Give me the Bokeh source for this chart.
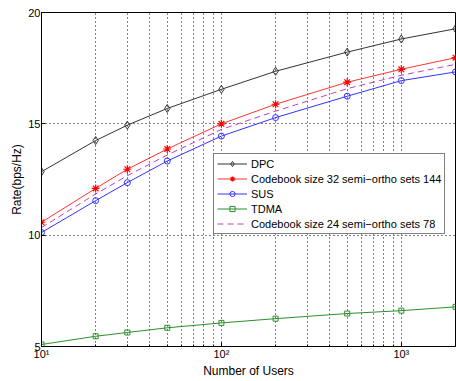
from bokeh.plotting import figure
from bokeh.models import Range1d, FixedTicker, Legend, LegendItem
from bokeh.embed import file_html
from bokeh.resources import INLINE

# Data
users = [10, 20, 30, 50, 100, 200, 500, 1000, 2000]
dpc = [12.85, 14.25, 14.94, 15.69, 16.55, 17.36, 18.22, 18.81, 19.27]
cb32 = [10.58, 12.10, 12.96, 13.87, 15.00, 15.88, 16.87, 17.45, 17.97]
sus = [10.12, 11.55, 12.36, 13.33, 14.45, 15.28, 16.24, 16.94, 17.33]
tdma = [5.09, 5.46, 5.63, 5.84, 6.06, 6.25, 6.48, 6.61, 6.78]
cb24 = [10.34, 11.85, 12.67, 13.60, 14.75, 15.57, 16.58, 17.18, 17.67]

x_major = [10, 100, 1000]
x_minor = [20, 30, 40, 50, 60, 70, 80, 90, 200, 300, 400, 500, 600, 700, 800, 900]
y_ticks = [5, 10, 15, 20]
x_labels = {10: "10¹", 100: "10²", 1000: "10³"}

FONT = "Liberation Sans"

p = figure(width=456, height=380, x_axis_type="log",
           x_range=Range1d(10, 2000), y_range=Range1d(5, 20),
           output_backend="svg", toolbar_location=None,
           min_border_left=41, min_border_right=1, min_border_top=12, min_border_bottom=33)

p.outline_line_color = "black"
p.outline_line_width = 1
p.background_fill_color = "white"
p.border_fill_color = "white"

p.xaxis.ticker = FixedTicker(ticks=x_major, minor_ticks=x_minor)
p.yaxis.ticker = FixedTicker(ticks=y_ticks)
p.xaxis.major_label_overrides = x_labels

for ax in (p.xaxis, p.yaxis):
    ax.axis_line_color = "black"
    ax.major_tick_line_color = "black"
    ax.minor_tick_line_color = "black"
    ax.major_tick_in = 4
    ax.major_tick_out = 0
    ax.minor_tick_in = 2
    ax.minor_tick_out = 0
    ax.major_label_text_font = FONT
    ax.major_label_text_font_size = "11px"
    ax.major_label_text_color = "black"
    ax.axis_label_text_font = FONT
    ax.axis_label_text_font_size = "12px"
    ax.axis_label_text_font_style = "normal"
    ax.axis_label_text_color = "black"
    ax.major_label_standoff = 1
    ax.axis_label_standoff = 1

p.xaxis.axis_label = "Number of Users"
p.yaxis.axis_label = "Rate(bps/Hz)"

p.xgrid.grid_line_color = "black"
p.xgrid.grid_line_dash = "1 3"
p.xgrid.grid_line_width = 1
p.xgrid.minor_grid_line_color = "black"
p.xgrid.minor_grid_line_dash = "1 3"
p.ygrid.grid_line_color = "black"
p.ygrid.grid_line_dash = "1 3"
p.ygrid.minor_grid_line_color = None

black = "#333333"
red = "#ff3333"
blue = "#3333ff"
green = "#2a8f2a"
mag = "#c040c0"

l1 = p.line(users, dpc, line_color=black, line_width=1)
m1 = p.scatter(users, dpc, marker="diamond", size=8, line_color=black, fill_color=None)
l2 = p.line(users, cb32, line_color=red, line_width=1)
m2 = p.scatter(users, cb32, marker="asterisk", size=8, line_color="red", line_width=1.2)
l3 = p.line(users, sus, line_color=blue, line_width=1)
m3 = p.scatter(users, sus, marker="circle", size=6, line_color=blue, fill_color=None)
l4 = p.line(users, tdma, line_color=green, line_width=1)
m4 = p.scatter(users, tdma, marker="square", size=5, line_color=green, fill_color=None)
l5 = p.line(users, cb24, line_color=mag, line_width=1, line_dash="6 4")

legend = Legend(items=[
    LegendItem(label="DPC", renderers=[l1, m1]),
    LegendItem(label="Codebook size 32 semi\u2212ortho sets 144", renderers=[l2, m2]),
    LegendItem(label="SUS", renderers=[l3, m3]),
    LegendItem(label="TDMA", renderers=[l4, m4]),
    LegendItem(label="Codebook size 24 semi\u2212ortho sets 78", renderers=[l5]),
], location=(172, 112))
legend.border_line_color = "black"
legend.border_line_width = 1
legend.background_fill_color = "white"
legend.background_fill_alpha = 1
legend.label_text_font = FONT
legend.label_text_font_size = "11px"
legend.label_text_color = "black"
legend.glyph_width = 30
legend.glyph_height = 13
legend.label_height = 13
legend.label_standoff = 4
legend.spacing = 2
legend.padding = 3
legend.margin = 0
p.add_layout(legend, "center")

open("out.html", "w").write(file_html(p, INLINE))
